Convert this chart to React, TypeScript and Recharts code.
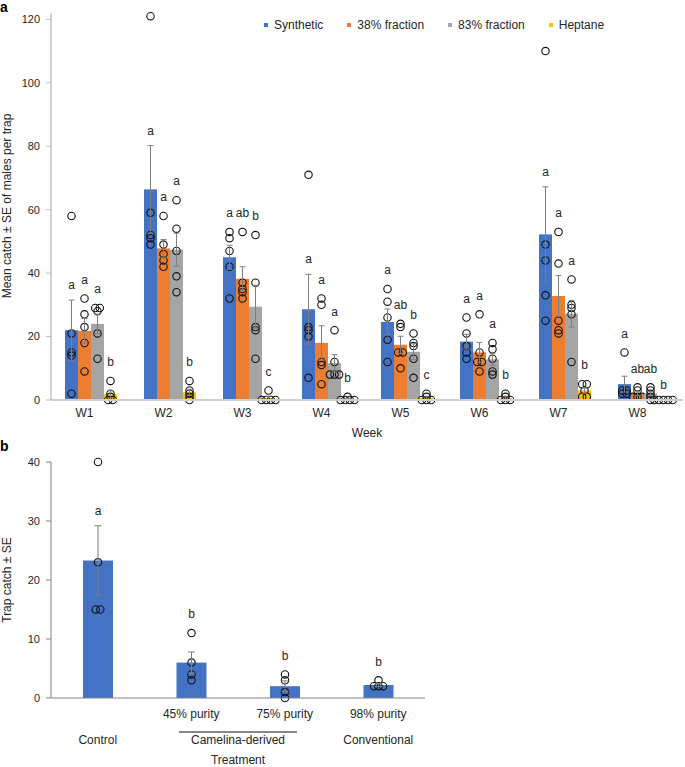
import React from 'react';
import { Bar, BarChart, ErrorBar, XAxis, YAxis } from 'recharts';

const FONT = '"Liberation Sans", Arial, Helvetica, sans-serif';
const INK = '#262626';

// ---------- panel a: weekly catches ----------
const weeks = ['W1', 'W2', 'W3', 'W4', 'W5', 'W6', 'W7', 'W8'];
const seriesNames = ['Synthetic', '38% fraction', '83% fraction', 'Heptane'];
const seriesColors = ['#4472C4', '#ED7D31', '#A5A5A5', '#FFC000'];
const weekTicks = [0, 20, 40, 60, 80, 100, 120];
const weekAxisMax = 122;

const syntheticMean = [22.0, 66.4, 45.0, 28.6, 24.6, 18.4, 52.2, 5.0];
const syntheticSe = [9.5, 13.8, 3.8, 11.0, 4.1, 2.3, 15.0, 2.5];
const syntheticTraps = [
  [58, 21, 15, 14, 2],
  [121, 59, 52, 51, 49],
  [53, 51, 47, 42, 32],
  [71, 23, 22, 20, 7],
  [35, 31, 26, 19, 12],
  [26, 21, 17, 15, 13],
  [110, 49, 44, 33, 25],
  [15, 3, 3, 2, 2],
];
const syntheticLetters = ['a', 'a', 'a', 'a', 'a', 'a', 'a', 'a'];

const frac38Mean = [21.8, 47.8, 38.2, 18.0, 17.4, 15.0, 32.8, 2.0];
const frac38Se = [3.9, 2.8, 3.8, 5.4, 2.7, 3.1, 6.4, 0.6];
const frac38Traps = [
  [32, 27, 23, 18, 9],
  [58, 49, 46, 44, 42],
  [53, 37, 35, 34, 32],
  [32, 30, 12, 11, 5],
  [24, 23, 15, 15, 10],
  [27, 15, 12, 12, 9],
  [53, 43, 25, 22, 21],
  [4, 3, 1, 1, 1],
];
const frac38Letters = ['a', 'a', 'ab', 'a', 'ab', 'a', 'a', 'ab'];

const frac83Mean = [24.0, 47.4, 29.4, 11.6, 15.2, 12.8, 27.2, 2.0];
const frac83Se = [3.1, 5.2, 6.8, 2.7, 2.5, 1.9, 4.2, 0.7];
const frac83Traps = [
  [29, 29, 28, 21, 13],
  [63, 54, 47, 39, 34],
  [52, 37, 23, 22, 13],
  [22, 12, 8, 8, 8],
  [21, 18, 17, 13, 7],
  [18, 16, 13, 9, 8],
  [38, 30, 29, 27, 12],
  [4, 3, 2, 1, 0],
];
const frac83Letters = ['a', 'a', 'b', 'a', 'b', 'a', 'a', 'ab'];

const heptaneMean = [1.8, 2.4, 0.6, 0.2, 0.6, 0.6, 3.0, 0.0];
const heptaneSe = [1.1, 1.0, 0.6, 0.2, 0.4, 0.4, 0.9, 0.0];
const heptaneTraps = [
  [6, 2, 1, 0, 0],
  [6, 3, 2, 1, 0],
  [3, 0, 0, 0, 0],
  [1, 0, 0, 0, 0],
  [2, 1, 0, 0, 0],
  [2, 1, 0, 0, 0],
  [5, 5, 3, 1, 1],
  [0, 0, 0, 0, 0],
];
const heptaneLetters = ['b', 'b', 'c', 'b', 'c', 'b', 'b', 'b'];

// ---------- panel b: treatments ----------
const treatments = ['Control', '45% purity', '75% purity', '98% purity'];
const treatMean = [23.3, 6.0, 2.0, 2.2];
const treatSe = [5.9, 1.8, 0.9, 0.25];
const treatTraps = [
  [40, 23, 15, 15],
  [11, 6, 4, 3],
  [4, 3, 1, 0],
  [3, 2, 2, 2],
];
const treatLetters = ['a', 'b', 'b', 'b'];
const treatTicks = [0, 10, 20, 30, 40];
const groupNames = ['Control', 'Camelina-derived', 'Conventional'];
const groupFirst = [0, 1, 3];
const groupLast = [0, 2, 3];

const SERIES = [
  { key: 'synthetic', err: 'syntheticSe', mean: syntheticMean, se: syntheticSe, traps: syntheticTraps, letters: syntheticLetters },
  { key: 'frac38', err: 'frac38Se', mean: frac38Mean, se: frac38Se, traps: frac38Traps, letters: frac38Letters },
  { key: 'frac83', err: 'frac83Se', mean: frac83Mean, se: frac83Se, traps: frac83Traps, letters: frac83Letters },
  { key: 'heptane', err: 'heptaneSe', mean: heptaneMean, se: heptaneSe, traps: heptaneTraps, letters: heptaneLetters },
].map((s, i) => ({ ...s, name: seriesNames[i], color: seriesColors[i] }));

const weekRows = weeks.map((week, i) => {
  const row: Record<string, string | number> = { week };
  SERIES.forEach((s) => {
    row[s.key] = s.mean[i];
    row[s.err] = s.se[i];
  });
  return row;
});

const treatRows = treatments.map((treatment, i) => ({
  treatment,
  mean: treatMean[i],
  se: treatSe[i],
}));

// panel b layout
const B_WIDTH = 685;
const B_MARGIN = { top: 17, right: 260, bottom: 0, left: 0 };
const Y_AXIS_W = 51;
const B_BAND = (B_WIDTH - B_MARGIN.left - B_MARGIN.right - Y_AXIS_W) / treatments.length;

const DOT_R = 3.7;
const DUP_STEP = 4.6;

// equal trap counts sit side by side instead of on top of each other
function spreadOffsets(vals: number[]) {
  const seen: Record<string, number> = {};
  return vals.map((v) => {
    const n = vals.filter((u) => u === v).length;
    const k = seen[v] ?? 0;
    seen[v] = k + 1;
    return (k - (n - 1) / 2) * DUP_STEP;
  });
}

// bar + individual trap circles + significance letter
function trapBar(
  cats: string[],
  catKey: string,
  traps: number[][],
  letters: string[],
  yMax: number,
  meanKey: string,
  seKey: string,
) {
  return function TrapBar(props: any) {
    const { x, y, width, height, fill, background, payload } = props;
    const idx = cats.indexOf(payload[catKey]);
    const base = y + height;
    const top = background && Number.isFinite(background.y) ? background.y : 0;
    const toPx = (v: number) => base - ((base - top) * v) / yMax;
    const cx = x + width / 2;
    const vals = traps[idx] ?? [];
    const offs = spreadOffsets(vals);
    const errTop = payload[meanKey] + payload[seKey];
    const near = vals.filter((v) => v <= errTop + yMax / 6);
    const highest = near.length ? Math.max(...near) : 0;
    const anchor = highest > errTop ? toPx(highest) - DOT_R : toPx(errTop);
    return (
      <g>
        {height > 0 && <rect x={x} y={y} width={width} height={height} fill={fill} />}
        {vals.map((v, i) => (
          <circle
            key={i}
            cx={cx + offs[i]}
            cy={toPx(v)}
            r={DOT_R}
            fill="none"
            stroke="#111"
            strokeWidth={1.1}
          />
        ))}
        <text x={cx} y={anchor - 11} textAnchor="middle" fontSize={12} fill={INK} fontFamily={FONT}>
          {letters[idx]}
        </text>
      </g>
    );
  };
}

const WeekTick = (p: any) => (
  <text x={p.x - 6} y={p.y + 9} textAnchor="middle" fontSize={12} fill={INK} fontFamily={FONT}>
    {p.payload.value}
  </text>
);

// two-level category axis: purity on the first row, source group on the second
const TreatTick = (p: any) => {
  const i = treatments.indexOf(p.payload.value);
  const g = groupFirst.findIndex((f, k) => i >= f && i <= groupLast[k]);
  const showRow1 = groupNames[g] !== p.payload.value;
  const isLast = i === groupLast[g];
  const span = groupLast[g] - groupFirst[g];
  const gx = p.x - (span * B_BAND) / 2;
  return (
    <g>
      {showRow1 && (
        <text x={p.x} y={p.y + 12} textAnchor="middle" fontSize={12} fill={INK} fontFamily={FONT}>
          {p.payload.value}
        </text>
      )}
      {isLast && span > 0 && (
        <line x1={gx - 59} x2={gx + 59} y1={p.y + 26} y2={p.y + 26} stroke="#111" strokeWidth={1.2} />
      )}
      {isLast && (
        <text x={gx} y={p.y + 37.5} textAnchor="middle" fontSize={12} fill={INK} fontFamily={FONT}>
          {groupNames[g]}
        </text>
      )}
    </g>
  );
};

const yTickStyle = { fontSize: 11, fill: INK, fontFamily: FONT };

function Caption({ x, y, text, rotate = false }: { x: number; y: number; text: string; rotate?: boolean }) {
  return (
    <div
      style={{
        position: 'absolute',
        left: x,
        top: y,
        transform: `translate(-50%, -50%)${rotate ? ' rotate(-90deg)' : ''}`,
        whiteSpace: 'nowrap',
        fontSize: 12,
        lineHeight: '12px',
        fontFamily: FONT,
        color: INK,
      }}
    >
      {text}
    </div>
  );
}

export default function App() {
  return (
    <div style={{ position: 'relative', width: 685, height: 767, background: '#fff', overflow: 'hidden' }}>
      <style>{'body{margin:0}'}</style>

      <div style={{ position: 'absolute', left: 0, top: 0 }}>
        <BarChart
          width={685}
          height={445}
          data={weekRows}
          margin={{ top: 13, right: 2, bottom: 0, left: 0 }}
          barGap={0}
          barSize={13}
        >
          <XAxis
            dataKey="week"
            height={45}
            interval={0}
            axisLine={{ stroke: '#CFCFCF', strokeWidth: 2 }}
            tickLine={false}
            tick={WeekTick}
          />
          <YAxis
            domain={[0, weekAxisMax]}
            ticks={weekTicks}
            width={Y_AXIS_W}
            tickSize={5}
            tickMargin={6}
            axisLine={{ stroke: '#A6A6A6' }}
            tickLine={{ stroke: '#BFBFBF' }}
            tick={yTickStyle}
          />
          {SERIES.map((s) => (
            <Bar
              key={s.key}
              dataKey={s.key}
              name={s.name}
              fill={s.color}
              isAnimationActive={false}
              shape={trapBar(weeks, 'week', s.traps, s.letters, weekAxisMax, s.key, s.err)}
            >
              <ErrorBar dataKey={s.err} width={3} stroke="#7F7F7F" strokeWidth={1} isAnimationActive={false} />
            </Bar>
          ))}
        </BarChart>
      </div>

      <div style={{ position: 'absolute', left: 0, top: 445 }}>
        <BarChart width={B_WIDTH} height={322} data={treatRows} margin={B_MARGIN} barSize={30}>
          <XAxis
            dataKey="treatment"
            height={69}
            interval={0}
            axisLine={{ stroke: '#808080' }}
            tickLine={false}
            tick={TreatTick}
          />
          <YAxis
            domain={[0, 40]}
            ticks={treatTicks}
            width={Y_AXIS_W}
            tickSize={5}
            tickMargin={6}
            axisLine={{ stroke: '#808080' }}
            tickLine={{ stroke: '#808080' }}
            tick={yTickStyle}
          />
          <Bar
            dataKey="mean"
            fill="#4472C4"
            isAnimationActive={false}
            shape={trapBar(treatments, 'treatment', treatTraps, treatLetters, 40, 'mean', 'se')}
          >
            <ErrorBar dataKey="se" width={3.5} stroke="#7F7F7F" strokeWidth={1} isAnimationActive={false} />
          </Bar>
        </BarChart>
      </div>

      {/* legend */}
      <div
        style={{
          position: 'absolute',
          left: 264,
          top: 19,
          display: 'flex',
          alignItems: 'center',
          fontSize: 12,
          lineHeight: '12px',
          fontFamily: FONT,
          color: INK,
        }}
      >
        {seriesNames.map((n, i) => (
          <div key={n} style={{ display: 'flex', alignItems: 'center', marginRight: 24 }}>
            <span style={{ width: 4, height: 4, background: seriesColors[i], marginRight: 6 }} />
            <span>{n}</span>
          </div>
        ))}
      </div>

      <div style={{ position: 'absolute', left: 0, top: 0, fontSize: 14, fontWeight: 'bold', fontFamily: FONT, lineHeight: '14px' }}>a</div>
      <div style={{ position: 'absolute', left: 0, top: 439, fontSize: 14, fontWeight: 'bold', fontFamily: FONT, lineHeight: '14px' }}>b</div>

      <Caption x={7} y={206} text="Mean catch ± SE of males per trap" rotate />
      <Caption x={367} y={433} text="Week" />
      <Caption x={7} y={580} text="Trap catch ± SE" rotate />
      <Caption x={238} y={760} text="Treatment" />
    </div>
  );
}
